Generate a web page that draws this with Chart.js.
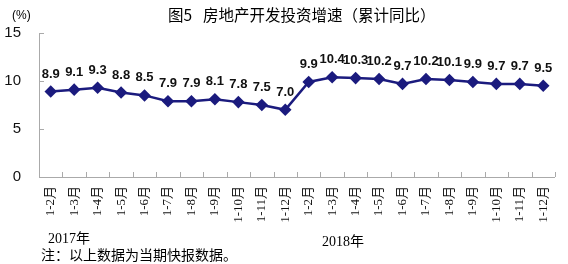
<!DOCTYPE html>
<html>
<head>
<meta charset="utf-8">
<script src="https://cdn.jsdelivr.net/npm/chart.js@4.4.0/dist/chart.umd.min.js"></script>
<style>
  html, body { margin: 0; padding: 0; background: #fff; }
  #wrap { width: 568px; height: 264px; position: relative; }
</style>
</head>
<body>
<div id="wrap"><canvas id="growthChart" width="568" height="264"></canvas></div>
<script>
// categories and values
const months = ['1-2月', '1-3月', '1-4月', '1-5月', '1-6月', '1-7月', '1-8月', '1-9月', '1-10月', '1-11月', '1-12月'];
const labels = months.concat(months);
const growth2017 = [8.9, 9.1, 9.3, 8.8, 8.5, 7.9, 7.9, 8.1, 7.8, 7.5, 7.0];
const growth2018 = [9.9, 10.4, 10.3, 10.2, 9.7, 10.2, 10.1, 9.9, 9.7, 9.7, 9.5];
const values = growth2017.concat(growth2018);
const yTicks = [0, 5, 10, 15];

const titleNo = '图5';
const titleText = '房地产开发投资增速（累计同比）';
const noteText = '注：以上数据为当期快报数据。';

const serif = '"Liberation Serif", "Noto Sans CJK SC", serif';
const sans = '"Liberation Sans", Arial, sans-serif';

// draws value labels, inward tick marks and the extra texts
const extras = {
    id: 'extras',
    afterDatasetsDraw(chart) {
        const ctx = chart.ctx;
        const meta = chart.getDatasetMeta(0);
        ctx.save();
        ctx.fillStyle = '#111';
        ctx.font = 'bold 13px ' + sans;
        ctx.textAlign = 'center';
        ctx.textBaseline = 'bottom';
        meta.data.forEach(function (pt, i) {
            ctx.fillText(values[i].toFixed(1), pt.x, pt.y - 11);
        });
        ctx.restore();
    },
    afterDraw(chart) {
        const ctx = chart.ctx;
        const x = chart.scales.x;
        const y = chart.scales.y;
        ctx.save();
        ctx.strokeStyle = '#aaa';
        ctx.lineWidth = 1;
        ctx.beginPath();
        yTicks.forEach(function (v) {
            if (v === 0) return;
            const py = Math.round(y.getPixelForValue(v)) + 0.5;
            ctx.moveTo(x.left, py);
            ctx.lineTo(x.left + 5, py);
        });
        const band = x.getPixelForValue(1) - x.getPixelForValue(0);
        for (let i = 1; i <= labels.length; i++) {
            const px = Math.round(x.getPixelForValue(i) - band / 2) + 0.5;
            ctx.moveTo(px, y.bottom);
            ctx.lineTo(px, y.bottom - 5);
        }
        ctx.stroke();

        ctx.fillStyle = '#000';
        ctx.textBaseline = 'middle';
        ctx.textAlign = 'left';
        ctx.font = '15.5px "Noto Sans CJK SC", sans-serif';
        ctx.fillText(titleNo, 168, 15);
        ctx.fillText(titleText, 203, 15);

        ctx.font = '12px ' + sans;
        ctx.fillText('(%)', 12, 16);

        ctx.font = '14px ' + serif;
        ctx.fillText('2017年', 48, 239);
        ctx.fillText('2018年', 322, 242);
        ctx.font = '14px ' + serif;
        ctx.fillText(noteText, 41, 256);
        ctx.restore();
    }
};

const ctx = document.getElementById('growthChart').getContext('2d');
const growthChart = new Chart(ctx, {
    type: 'line',
    data: {
        labels: labels,
        datasets: [{
            data: values,
            borderColor: '#1b1b7e',
            backgroundColor: '#1b1b7e',
            borderWidth: 2.5,
            pointStyle: 'rectRot',
            pointRadius: 4.5,
            pointHoverRadius: 4.5,
            tension: 0
        }]
    },
    options: {
        responsive: false,
        animation: false,
        events: [],
        layout: { padding: { top: 33, right: 6, left: 0, bottom: 0 } },
        plugins: {
            legend: { display: false },
            tooltip: { enabled: false }
        },
        scales: {
            x: {
                offset: true,
                grid: { display: false, drawTicks: false },
                border: { color: '#aaa', width: 1 },
                ticks: {
                    autoSkip: false,
                    minRotation: 90,
                    maxRotation: 90,
                    padding: 9,
                    color: '#111',
                    font: { size: 13, family: serif }
                },
                afterFit: function (scale) { scale.height = 87; }
            },
            y: {
                min: 0,
                max: 15,
                afterBuildTicks: function (scale) {
                    scale.ticks = yTicks.map(function (v) { return { value: v }; });
                },
                grid: { display: false, drawTicks: false },
                border: { color: '#aaa', width: 1 },
                ticks: {
                    padding: 18,
                    color: '#111',
                    font: { size: 15, family: sans }
                },
                afterFit: function (scale) { scale.width = 39; }
            }
        }
    },
    plugins: [extras]
});
</script>
</body>
</html>
